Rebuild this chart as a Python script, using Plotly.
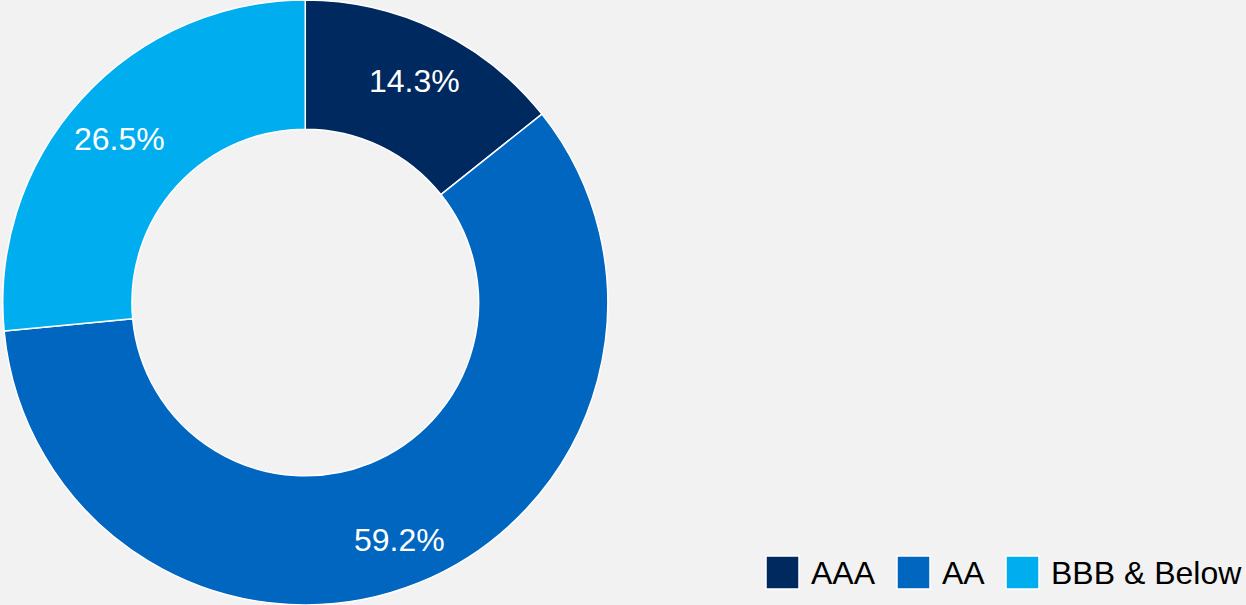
import math
import plotly.graph_objects as go

categories = ["AAA", "AA", "BBB & Below"]
values = [14.3, 59.2, 26.5]
colors = ["#002960", "#0066bf", "#00adef"]

W, H = 1246, 605
FONT = "Liberation Sans, Arial, sans-serif"
DOM_X = [0, 0.49]
DOM_Y = [0, 1]

fig = go.Figure()
fig.add_trace(go.Pie(
    labels=categories,
    values=values,
    sort=False,
    direction="clockwise",
    rotation=0,
    hole=0.573,
    marker=dict(colors=colors, line=dict(color="white", width=1.5)),
    textinfo="none",
    domain=dict(x=DOM_X, y=DOM_Y),
    showlegend=False,
))

annotations = []
shapes = []

# data labels placed at the slice mid-angle on the ring
cx = (DOM_X[0] + DOM_X[1]) / 2 * W
cy = (1 - (DOM_Y[0] + DOM_Y[1]) / 2) * H
lab_r = 251
total = sum(values)
cum = 0.0
for v in values:
    mid = (cum + v / 2) / total * 2 * math.pi
    cum += v
    px = cx + lab_r * math.sin(mid)
    py = cy - lab_r * math.cos(mid) + 5
    annotations.append(dict(xref="paper", yref="paper", x=px / W, y=1 - py / H,
                            xanchor="center", yanchor="middle", showarrow=False,
                            text=f"{v:.1f}%",
                            font=dict(family=FONT, size=32, color="white")))

# custom legend (large swatches)
leg_x = [766, 897, 1006]  # swatch left edges in px
sw = 33
y0, y1 = 556, 589
for cat, col, lx in zip(categories, colors, leg_x):
    shapes.append(dict(type="rect", xref="paper", yref="paper",
                       x0=lx / W, x1=(lx + sw) / W,
                       y0=1 - y1 / H, y1=1 - y0 / H,
                       fillcolor=col, line=dict(color="white", width=1.5)))
    annotations.append(dict(xref="paper", yref="paper",
                            x=(lx + sw + 10) / W, y=1 - ((y0 + y1) / 2) / H,
                            xanchor="left", yanchor="middle", showarrow=False,
                            text=cat,
                            font=dict(family=FONT, size=32, color="black")))

fig.update_layout(
    width=W, height=H,
    margin=dict(l=0, r=0, t=0, b=0),
    paper_bgcolor="#f2f2f2",
    plot_bgcolor="#f2f2f2",
    shapes=shapes,
    annotations=annotations,
)

fig.write_html("out.html", config={"displayModeBar": False},
               post_script="document.body.style.margin='0';document.body.style.padding='0';")
